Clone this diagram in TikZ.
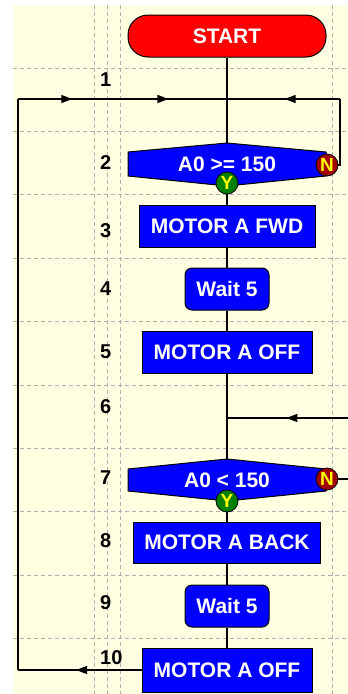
\documentclass[tikz,border=0pt]{standalone}
\usepackage{fontspec}
\setmainfont{Liberation Sans}
\usetikzlibrary{arrows.meta,decorations.markings}
\definecolor{cream}{RGB}{255,255,225}
\definecolor{gridgray}{RGB}{175,175,175}
\definecolor{nred}{RGB}{160,0,0}
\definecolor{ygreen}{RGB}{0,128,0}
\definecolor{ylw}{RGB}{255,255,0}
\tikzset{
  box/.style={draw=black, line width=1pt, fill=blue, text=white, font=\fontsize{21}{24}\selectfont\bfseries, inner sep=0pt, minimum height=42pt},
  waitbox/.style={box, rounded corners=7pt, minimum width=84pt},
  startbox/.style={box, fill=red, rounded corners=20pt, minimum width=198pt},
  dec/.style={draw=black, line width=1pt, fill=blue},
  dectext/.style={text=white, font=\fontsize{21}{24}\selectfont\bfseries, inner sep=0pt},
  ycirc/.style={circle, draw=black, line width=0.8pt, fill=ygreen, text=ylw, font=\fontsize{19}{20}\selectfont\bfseries, inner sep=0pt, minimum size=22pt},
  ncirc/.style={ycirc, fill=nred},
  rownum/.style={anchor=west, inner sep=0pt, font=\fontsize{20}{22}\selectfont\bfseries, text=black},
  conn/.style={line width=1.2pt, draw=black},
  gridline/.style={draw=gridgray, line width=1pt, dash pattern=on 4pt off 3pt},
  tipmark/.style={postaction={decorate}, decoration={markings, mark=at position #1 with {\arrow{Triangle[length=11pt,width=8pt]}}}},
  twotips/.style={postaction={decorate}, decoration={markings, mark=at position 0.26 with {\arrow{Triangle[length=11pt,width=8pt]}}, mark=at position 0.72 with {\arrow{Triangle[length=11pt,width=8pt]}}}}
}
\begin{document}
\begin{tikzpicture}[x=1pt,y=-1pt]
\useasboundingbox (0,0) rectangle (348,694);
\fill[white] (0,0) rectangle (348,694);
\fill[cream] (13,5) rectangle (348,694);
% grid
\foreach \gy in {68,131.4,194.8,258.2,321.6,385,448.4,511.8,575.2,638.6}
  \draw[gridline] (13,\gy) -- (348,\gy);
\foreach \gx in {94,107,120,332}
  \draw[gridline] (\gx,5) -- (\gx,694);
% row numbers
\node[rownum] (r1) at (100,80) {1};
\node[rownum] (r2) at (100,163) {2};
\node[rownum] (r3) at (100,231) {3};
\node[rownum] (r4) at (100,289) {4};
\node[rownum] (r5) at (100,352) {5};
\node[rownum] (r6) at (100,407) {6};
\node[rownum] (r7) at (100,478) {7};
\node[rownum] (r8) at (100,541) {8};
\node[rownum] (r9) at (100,603) {9};
\node[rownum] (r10) at (100,658) {10};
% coordinates
\coordinate (c1) at (227,99);
\coordinate (rr1) at (340,99);
\coordinate (l1) at (18,670);
\coordinate (l2) at (18,99);
\coordinate (c6) at (227,418);
\coordinate (e6) at (348,418);
\coordinate (e7) at (348,479);
\coordinate (d1t) at (227,143);
\coordinate (d7t) at (227,459);
% boxes
\node[startbox] (start) at (227,36) {START};
\node[box, minimum width=176pt] (b3) at (227,226) {MOTOR A FWD};
\node[waitbox] (w4) at (227,289) {Wait 5};
\node[box, minimum width=170pt] (b5) at (227,352) {MOTOR A OFF};
\node[box, minimum width=187pt, minimum height=41pt] (b8) at (227,542.5) {MOTOR A BACK};
\node[waitbox] (w9) at (227,606) {Wait 5};
\node[box, minimum width=170pt, minimum height=44pt] (b10) at (227,670) {MOTOR A OFF};
% decisions
\draw[dec] (128,152) -- (227,143) -- (326,152) -- (326,176) -- (227,186) -- (128,176) -- cycle;
\node[dectext] (d1) at (227,164) {A0 >= 150};
\node[ycirc] (y1) at (227,183) {Y};
\node[ncirc] (n1) at (327,165) {N};
\draw[dec] (128,469) -- (227,459) -- (326,469) -- (326,491) -- (227,501) -- (128,491) -- cycle;
\node[dectext] (d7) at (227,480) {A0 < 150};
\node[ycirc] (y7) at (227,501) {Y};
\node[ncirc] (n7) at (327,479) {N};
% connectors
\draw[conn] (start.south) -- (d1t);
\draw[conn] (y1) -- (b3);
\draw[conn] (b3) -- (w4);
\draw[conn] (w4) -- (b5);
\draw[conn] (b5.south) -- (d7t);
\draw[conn] (y7) -- (b8);
\draw[conn] (b8) -- (w9);
\draw[conn] (w9) -- (b10);
\draw[conn] (n1.east) -| (rr1);
\draw[conn, tipmark=0.49] (rr1) -- (c1);
\draw[conn, tipmark=0.53] (b10.west) -- (l1);
\draw[conn] (l1) -- (l2);
\draw[conn, twotips] (l2) -- (c1);
\draw[conn, tipmark=0.51] (e6) -- (c6);
\draw[conn] (n7.east) -- (e7);
\end{tikzpicture}
\end{document}
